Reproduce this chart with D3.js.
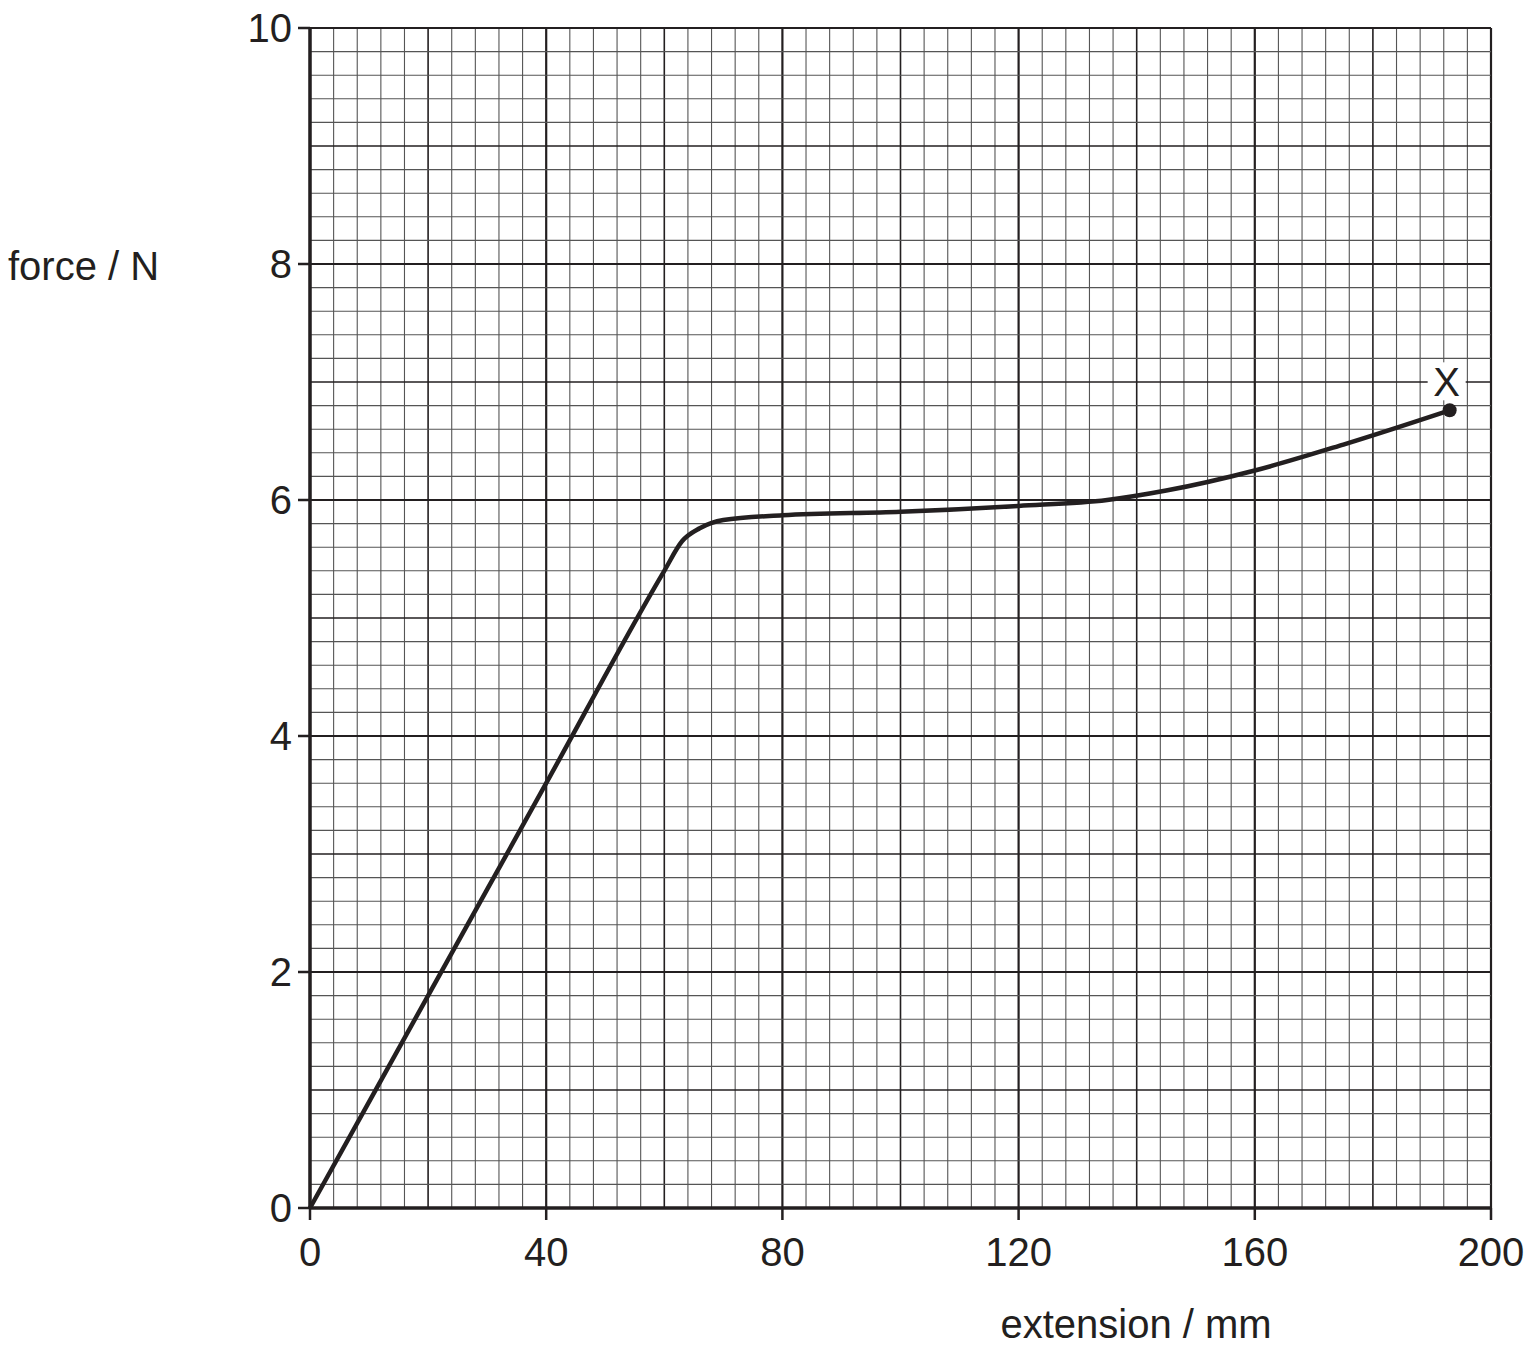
<!DOCTYPE html>
<html><head><meta charset="utf-8">
<script src="https://cdn.jsdelivr.net/npm/d3@7"></script>
<style>body{margin:0;background:#fff}text{font-family:"Liberation Sans",Arial,sans-serif;fill:#231f20}</style>
</head><body><svg id="c" width="1536" height="1349"></svg>
<script>
const xTicks=[0,40,80,120,160,200];
const yTicks=[0,2,4,6,8,10];
const curveX=[0,20,40,60,63,66,70,80,100,120,135,145,160,175,193];
const curveY=[0,1.8,3.6,5.4,5.65,5.76,5.83,5.87,5.9,5.95,6.0,6.08,6.25,6.47,6.76];
const endLabel="X";
const svg=d3.select("#c");
const x=d3.scaleLinear().domain([0,200]).range([310,1491]);
const y=d3.scaleLinear().domain([0,10]).range([1208,28]);
const g=svg.append("g");
for(let v=0;v<=200;v+=4){const maj=v%40===0,med=v%20===0;
 g.append("line").attr("x1",x(v)).attr("x2",x(v)).attr("y1",y(0)).attr("y2",y(10))
 .attr("stroke",maj||med?"#231f20":"#555").attr("stroke-width",maj?2.2:med?1.6:1.1);}
for(let i=0;i<=50;i++){const v=i/5;const maj=i%10===0,med=i%5===0;
 g.append("line").attr("y1",y(v)).attr("y2",y(v)).attr("x1",x(0)).attr("x2",x(200))
 .attr("stroke",maj||med?"#231f20":"#555").attr("stroke-width",maj?2.2:med?1.6:1.1);}
g.append("line").attr("x1",x(0)).attr("x2",x(0)).attr("y1",y(0)).attr("y2",y(10)).attr("stroke","#231f20").attr("stroke-width",3.5);
g.append("line").attr("x1",x(0)).attr("x2",x(200)).attr("y1",y(0)).attr("y2",y(0)).attr("stroke","#231f20").attr("stroke-width",3.5);
xTicks.forEach(t=>{g.append("line").attr("x1",x(t)).attr("x2",x(t)).attr("y1",y(0)).attr("y2",y(0)+12).attr("stroke","#231f20").attr("stroke-width",2.5);
 g.append("text").attr("x",x(t)).attr("y",1266).attr("text-anchor","middle").attr("font-size",40).text(t);});
yTicks.forEach(t=>{g.append("line").attr("x1",x(0)-12).attr("x2",x(0)).attr("y1",y(t)).attr("y2",y(t)).attr("stroke","#231f20").attr("stroke-width",2.5);
 g.append("text").attr("x",292).attr("y",y(t)+14).attr("text-anchor","end").attr("font-size",40).text(t);});
svg.append("text").attr("x",8).attr("y",280).attr("font-size",40).text("force / N");
svg.append("text").attr("x",1136).attr("y",1338).attr("text-anchor","middle").attr("font-size",40).text("extension / mm");
const pts=curveX.map((v,i)=>[v,curveY[i]]);
svg.append("path").attr("d",d3.line().x(d=>x(d[0])).y(d=>y(d[1])).curve(d3.curveMonotoneX)(pts))
 .attr("fill","none").attr("stroke","#231f20").attr("stroke-width",4.5);
const last=pts[pts.length-1];
svg.append("circle").attr("cx",x(last[0])).attr("cy",y(last[1])).attr("r",7).attr("fill","#231f20");
svg.append("rect").attr("x",x(last[0])-22).attr("y",y(last[1])-48).attr("width",38).attr("height",38).attr("fill","#fff");
svg.append("text").attr("x",x(last[0])-3).attr("y",y(last[1])-14).attr("text-anchor","middle").attr("font-size",40).text(endLabel);
</script></body></html>
